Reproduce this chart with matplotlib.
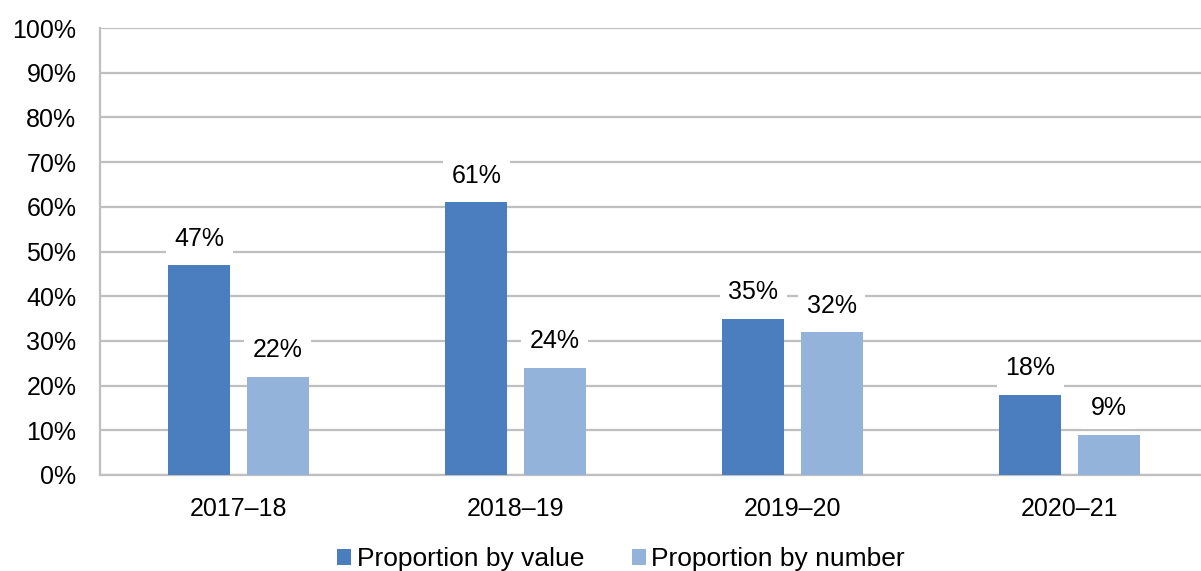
import matplotlib
matplotlib.use("Agg")
import matplotlib.pyplot as plt
import numpy as np

plt.rcParams['font.family'] = ['Liberation Sans', 'DejaVu Sans']

years = ["2017\u201318", "2018\u201319", "2019\u201320", "2020\u201321"]
by_value = [47, 61, 35, 18]
by_number = [22, 24, 32, 9]
y_ticks = list(range(0, 101, 10))

dark = "#4A7EBF"
light = "#93B3DB"
grid_col = "#BFBFBF"

fig = plt.figure(figsize=(12.01, 5.71), dpi=100)
ax = fig.add_axes([100 / 1201, 96 / 571, 1108 / 1201, 447 / 571])

x = np.arange(len(years))
w = 0.224
off = 0.141
b1 = ax.bar(x - off, by_value, w, color=dark, label="Proportion by value", zorder=3)
b2 = ax.bar(x + off, by_number, w, color=light, label="Proportion by number", zorder=3)

for bars, vals in ((b1, by_value), (b2, by_number)):
    for rect, v in zip(bars, vals):
        ax.annotate(f"{v}%", (rect.get_x() + rect.get_width() / 2, v),
                    xytext=(0, 19), textcoords="offset points",
                    ha="center", va="center", fontsize=18, color="black",
                    bbox=dict(boxstyle="square,pad=0.35", fc="white", ec="none"),
                    zorder=4)

ax.set_xlim(-0.5, 3.5)
ax.set_ylim(0, 100)
ax.set_yticks(y_ticks)
ax.set_yticklabels([f"{t}%" for t in y_ticks], fontsize=18)
ax.set_xticks(x)
ax.set_xticklabels(years, fontsize=18)
ax.tick_params(axis="y", length=0, pad=17)
ax.tick_params(axis="x", length=0, pad=16)
ax.yaxis.grid(True, color=grid_col, linewidth=1.6, zorder=0)

for s in ("top", "right"):
    ax.spines[s].set_visible(False)
for s in ("left", "bottom"):
    ax.spines[s].set_color(grid_col)
    ax.spines[s].set_linewidth(1.6)

fig.legend(loc="center", bbox_to_anchor=(621 / 1201, 12 / 571), ncol=2, frameon=False,
           fontsize=19, handlelength=0.55, handleheight=0.55, handletextpad=0.2,
           columnspacing=1.8)

fig.savefig("out.png", dpi=100)
